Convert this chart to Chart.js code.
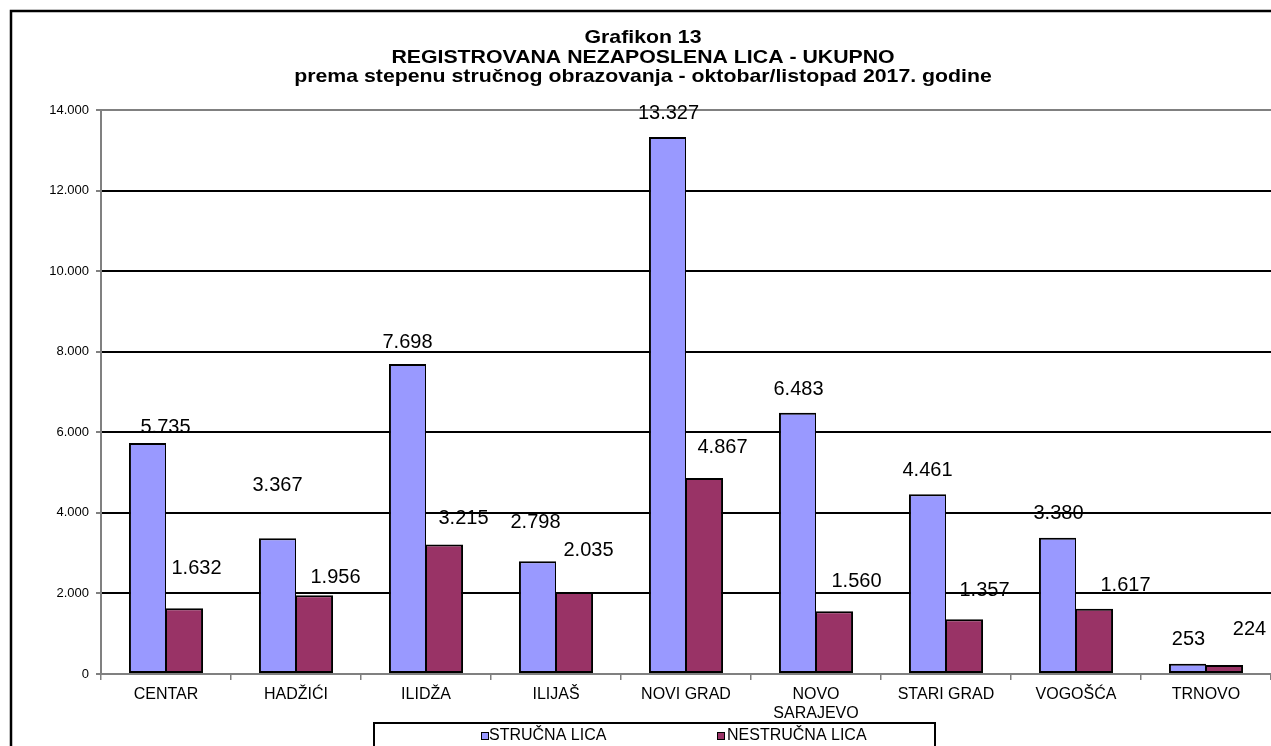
<!DOCTYPE html>
<html>
<head>
<meta charset="utf-8">
<script src="https://cdn.jsdelivr.net/npm/chart.js@4/dist/chart.umd.min.js"></script>
<style>
  html, body { margin: 0; padding: 0; background: #fff; }
  #okvir { width: 1271px; height: 746px; position: relative; }
</style>
</head>
<body>
<div id="okvir"><canvas id="grafikon"></canvas></div>
<script>
const opstine = ["CENTAR", "HADŽIĆI", "ILIDŽA", "ILIJAŠ", "NOVI GRAD", ["NOVO", "SARAJEVO"], "STARI GRAD", "VOGOŠĆA", "TRNOVO"];
const strucnaLica = [5735, 3367, 7698, 2798, 13327, 6483, 4461, 3380, 253];
const nestrucnaLica = [1632, 1956, 3215, 2035, 4867, 1560, 1357, 1617, 224];
const yOznake = [0, 2000, 4000, 6000, 8000, 10000, 12000, 14000];
const naslov = [
  "Grafikon 13",
  "REGISTROVANA NEZAPOSLENA LICA - UKUPNO",
  "prema stepenu stručnog obrazovanja - oktobar/listopad 2017. godine"
];

// pomaci oznaka vrijednosti (px) od vrha stupca, kao u Excelu
const pomakStrucna = [[18, -15], [0, -53], [0, -21], [-2, -39], [1, -24], [1, -23], [0, -24], [1, -24], [1, -24]];
const pomakNestrucna = [[12, -40], [21, -18], [19, -26], [14, -42], [18, -30], [22, -30], [20, -29], [31, -23], [25, -35]];

const FONT = "Arial, 'Liberation Sans', sans-serif";
const formatBroja = n => String(n).replace(/\B(?=(\d{3})+(?!\d))/g, ".");

const okvirPlugin = {
  id: "okvir",
  afterDraw(chart) {
    const ctx = chart.ctx;
    ctx.save();
    // vanjski okvir
    ctx.strokeStyle = "#000";
    ctx.lineWidth = 2.5;
    ctx.strokeRect(11, 11, 1320, 800);

    // naslov (referenca je malo razvucena vodoravno)
    ctx.fillStyle = "#000";
    ctx.font = "bold 19px " + FONT;
    ctx.textAlign = "center";
    ctx.textBaseline = "alphabetic";
    naslov.forEach((t, i) => {
      ctx.save();
      ctx.translate(643, 43 + i * 19.5);
      ctx.scale(1.12, 1);
      ctx.fillText(t, 0, 0);
      ctx.restore();
    });

    // legenda
    ctx.lineWidth = 2;
    ctx.strokeRect(374, 723, 561, 60);
    const stavke = [[481, 489], [717, 727]];
    ctx.font = "16px " + FONT;
    ctx.textAlign = "left";
    ctx.textBaseline = "middle";
    chart.data.datasets.forEach((ds, i) => {
      const [kx, tx] = stavke[i];
      ctx.fillStyle = ds.backgroundColor;
      ctx.fillRect(kx, 732, 7, 7);
      ctx.lineWidth = 1;
      ctx.strokeStyle = "#000";
      ctx.strokeRect(kx + 0.5, 732.5, 7, 7);
      ctx.fillStyle = "#000";
      ctx.fillText(ds.label, tx, 736);
    });
    ctx.restore();
  }
};

const oznakePlugin = {
  id: "oznake",
  afterDatasetsDraw(chart) {
    const ctx = chart.ctx;
    ctx.save();
    ctx.font = "20px " + FONT;
    ctx.fillStyle = "#000";
    ctx.textAlign = "center";
    ctx.textBaseline = "middle";
    const pomaci = [pomakStrucna, pomakNestrucna];
    chart.data.datasets.forEach((ds, d) => {
      chart.getDatasetMeta(d).data.forEach((el, i) => {
        const [dx, dy] = pomaci[d][i];
        ctx.fillText(formatBroja(ds.data[i]), el.x + dx, el.y + dy);
      });
    });
    ctx.restore();
  }
};

new Chart(document.getElementById("grafikon"), {
  type: "bar",
  data: {
    labels: opstine,
    datasets: [
      {
        label: "STRUČNA LICA",
        data: strucnaLica,
        backgroundColor: "#9999FF",
        borderColor: "#000",
        borderWidth: { left: 2, right: 1, top: 2, bottom: 2 },
        borderSkipped: false
      },
      {
        label: "NESTRUČNA LICA",
        data: nestrucnaLica,
        backgroundColor: "#993366",
        borderColor: "#000",
        borderWidth: { left: 1, right: 2, top: 2, bottom: 2 },
        borderSkipped: false
      }
    ]
  },
  options: {
    responsive: true,
    maintainAspectRatio: false,
    animation: false,
    layout: { padding: { top: 110, left: 0, right: 0, bottom: 0 } },
    plugins: {
      legend: { display: false },
      title: { display: false },
      tooltip: { enabled: false }
    },
    datasets: { bar: { categoryPercentage: 0.57, barPercentage: 1 } },
    scales: {
      x: {
        offset: true,
        afterFit: s => { s.height = 72; },
        grid: { offset: true, drawOnChartArea: false, tickLength: 6, tickColor: "#808080", lineWidth: 1.5 },
        border: { display: true, color: "#808080", width: 2 },
        ticks: { color: "#000", font: { family: FONT, size: 16 }, padding: 5, maxRotation: 0, autoSkip: false }
      },
      y: {
        min: 0,
        max: 14000,
        afterFit: s => { s.width = 101; },
        afterBuildTicks: s => { s.ticks = yOznake.map(v => ({ value: v })); },
        grid: {
          color: c => (c.tick && c.tick.value === 14000 ? "#808080" : (c.tick && c.tick.value === 0 ? "rgba(0,0,0,0)" : "#000")),
          lineWidth: 2,
          tickLength: 5,
          tickColor: "#808080"
        },
        border: { display: true, color: "#808080", width: 2 },
        ticks: { color: "#000", font: { family: FONT, size: 13 }, padding: 7, callback: v => formatBroja(v) }
      }
    }
  },
  plugins: [oznakePlugin, okvirPlugin]
});
</script>
</body>
</html>
